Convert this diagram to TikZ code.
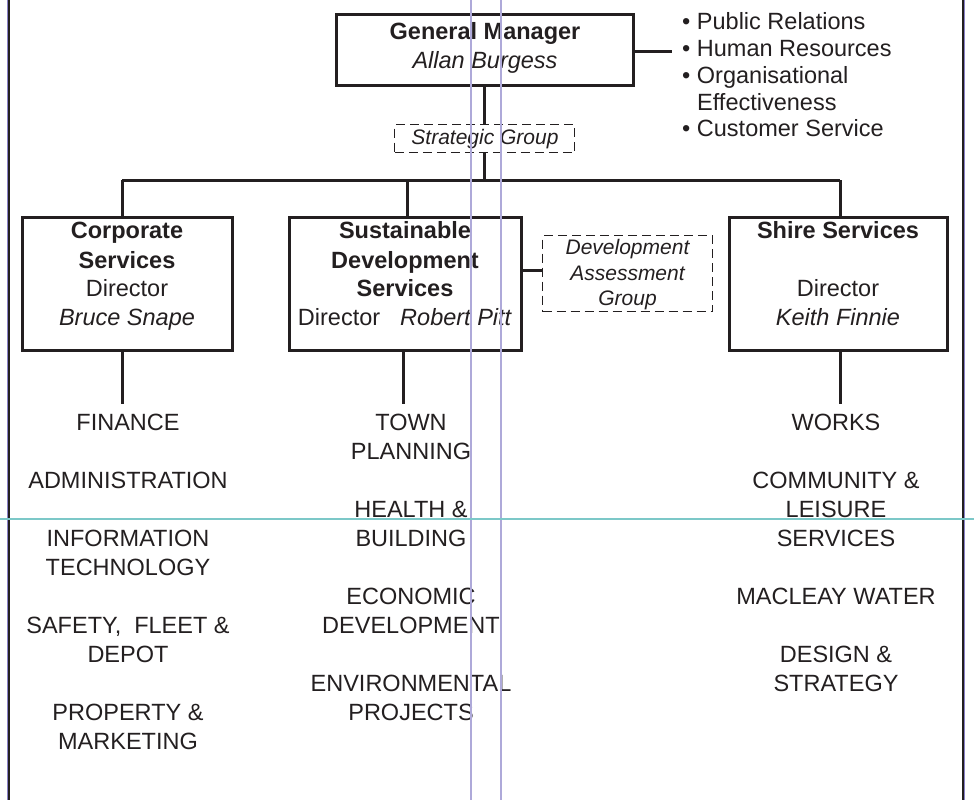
\documentclass[tikz,border=0pt]{standalone}
\usepackage{fontspec}
\setmainfont{Liberation Sans}
\definecolor{inkc}{HTML}{231F20}
\definecolor{guidev}{HTML}{AEA9D9}
\definecolor{guideh}{HTML}{7CC8C8}
\definecolor{edgev}{HTML}{8A82C8}
\begin{document}
\begin{tikzpicture}[x=1pt,y=-1pt,
  box/.style={draw=inkc, line width=3pt, rectangle, inner sep=0pt},
  gbox/.style={draw=inkc, line width=1.3pt, dash pattern=on 9pt off 5pt, rectangle, inner sep=0pt},
  wire/.style={draw=inkc, line width=3pt},
  txt/.style={anchor=base, inner sep=0pt, text=inkc, font=\fontsize{23.5pt}{28pt}\selectfont},
  btxt/.style={txt, font=\fontsize{23.5pt}{28pt}\selectfont\bfseries},
  itxt/.style={txt, font=\fontsize{23.5pt}{28pt}\selectfont\itshape},
  gtxt/.style={anchor=base, inner sep=0pt, text=inkc, font=\fontsize{21pt}{26pt}\selectfont\itshape},
  ltxt/.style={txt, anchor=base west},
  guide/.style={draw=guidev, line width=1.4pt},
]
\useasboundingbox (0,0) rectangle (974,800);

% boxes
\node[box, minimum width=297pt, minimum height=70pt] (gm) at (484.5,50) {};
\node[gbox, minimum width=180pt, minimum height=28pt] (sg) at (484.75,138.5) {};
\node[box, minimum width=210pt, minimum height=133pt] (corp) at (127,283.5) {};
\node[box, minimum width=232pt, minimum height=133pt] (sds) at (405,283.5) {};
\node[gbox, minimum width=170pt, minimum height=76pt] (dag) at (627.5,273.5) {};
\node[box, minimum width=218pt, minimum height=133pt] (shire) at (838,283.5) {};

% coordinates for connectors
\coordinate (busL) at (122,180);
\coordinate (busM) at (407,180);
\coordinate (busR) at (840,180);
\coordinate (hrEnd) at (672,52);
\coordinate (dagLink) at (532,270);
\coordinate (corpEnd) at (122,404);
\coordinate (sdsEnd) at (403,404);
\coordinate (shireEnd) at (840,404);

% connectors
\draw[wire] (gm.south -| sg.north) -- (sg.north);
\draw[wire] (sg.south) -- (sg.south |- busL);
\draw[wire] (busL) -- (busR);
\draw[wire] (busL) -- (busL |- corp.north);
\draw[wire] (busM) -- (busM |- sds.north);
\draw[wire] (busR) -- (busR |- shire.north);
\draw[wire] (gm.east |- hrEnd) -- (hrEnd);
\draw[wire] (sds.east |- dagLink) -- (dag.west |- dagLink);
\draw[wire] (corpEnd |- corp.south) -- (corpEnd);
\draw[wire] (sdsEnd |- sds.south) -- (sdsEnd);
\draw[wire] (shireEnd |- shire.south) -- (shireEnd);

% General Manager
\node[btxt] (gmT) at (485,39.4) {General Manager};
\node[itxt] (gmN) at (485,68.4) {Allan Burgess};
\node[gtxt] (sgT) at (485,144.5) {Strategic Group};

% bullet list
\node[ltxt] (b1) at (682,30) {\textbullet\ Public Relations};
\node[ltxt] (b2) at (682,56.7) {\textbullet\ Human Resources};
\node[ltxt] (b3) at (682,83.4) {\textbullet\ Organisational};
\node[ltxt] (b4) at (697,110.1) {Effectiveness};
\node[ltxt] (b5) at (682,136.8) {\textbullet\ Customer Service};

% Corporate
\node[btxt] (cT1) at (127,238.4) {Corporate};
\node[btxt] (cT2) at (127,268.4) {Services};
\node[txt] (cT3) at (127,296.7) {Director};
\node[itxt] (cT4) at (127,325.1) {Bruce Snape};

% Sustainable Development
\node[btxt] (sT1) at (405,238.4) {Sustainable};
\node[btxt] (sT2) at (405,268.4) {Development};
\node[btxt] (sT3) at (405,296.7) {Services};
\node[txt] (sT4) at (405,325.1) {Director\hspace{20pt}\textit{Robert Pitt}};

% Development Assessment Group
\node[gtxt] (dT1) at (627.5,254.2) {Development};
\node[gtxt] (dT2) at (627.5,280.5) {Assessment};
\node[gtxt] (dT3) at (627.5,305.5) {Group};

% Shire
\node[btxt] (hT1) at (838,238.4) {Shire Services};
\node[txt] (hT2) at (838,296.7) {Director};
\node[itxt] (hT3) at (838,325.1) {Keith Finnie};

% department lists (baseline = 430.4 + 29k)
\node[txt] (c0) at (128,430.4) {FINANCE};
\node[txt] (c2) at (128,488.4) {ADMINISTRATION};
\node[txt] (c4) at (128,546.4) {INFORMATION};
\node[txt] (c5) at (128,575.4) {TECHNOLOGY};
\node[txt] (c7) at (128,633.4) {SAFETY,\hspace{13pt}FLEET \&};
\node[txt] (c8) at (128,662.4) {DEPOT};
\node[txt] (c10) at (128,720.4) {PROPERTY \&};
\node[txt] (c11) at (128,749.4) {MARKETING};

\node[txt] (s0) at (411,430.4) {TOWN};
\node[txt] (s1) at (411,459.4) {PLANNING};
\node[txt] (s3) at (411,517.4) {HEALTH \&};
\node[txt] (s4) at (411,546.4) {BUILDING};
\node[txt] (s6) at (411,604.4) {ECONOMIC};
\node[txt] (s7) at (411,633.4) {DEVELOPMENT};
\node[txt] (s9) at (411,691.4) {ENVIRONMENTAL};
\node[txt] (s10) at (411,720.4) {PROJECTS};

\node[txt] (h0) at (836,430.4) {WORKS};
\node[txt] (h2) at (836,488.4) {COMMUNITY \&};
\node[txt] (h3) at (836,517.4) {LEISURE};
\node[txt] (h4) at (836,546.4) {SERVICES};
\node[txt] (h6) at (836,604.4) {MACLEAY WATER};
\node[txt] (h8) at (836,662.4) {DESIGN \&};
\node[txt] (h9) at (836,691.4) {STRATEGY};

% page borders
\draw[draw=edgev, line width=1.2pt] (7.2,0) -- (7.2,800);
\draw[draw=inkc, line width=2.2pt] (8.9,0) -- (8.9,800);
\draw[draw=inkc, line width=2.2pt] (962.8,0) -- (962.8,800);
\draw[draw=edgev, line width=1.2pt] (964.6,0) -- (964.6,800);

% guide lines
\draw[guide] (470.8,0) -- (470.8,800);
\draw[guide] (501,0) -- (501,800);
\draw[draw=guideh, line width=1.2pt] (0,519) -- (974,519);
\end{tikzpicture}
\end{document}
